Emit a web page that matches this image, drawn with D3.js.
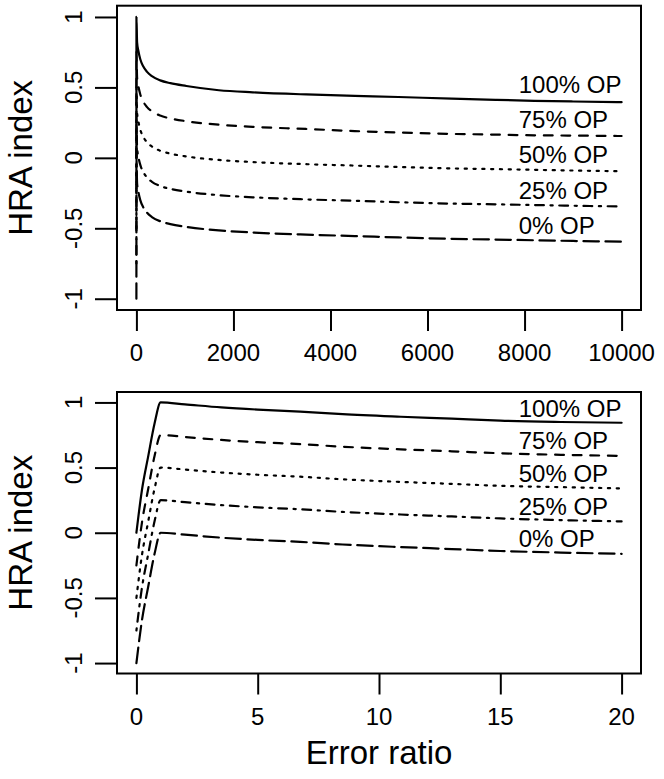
<!DOCTYPE html>
<html>
<head>
<meta charset="UTF-8">
<title>HRA index vs error ratio</title>
<style>
  body { margin: 0; background: #fff; }
  svg { display: block; font-family: "Liberation Sans", Arial, Helvetica, sans-serif; }
  .axis line { stroke: #000; stroke-width: 2; }
  .tick-label { font-size: 24px; fill: #000; }
  .op-label { font-size: 24px; fill: #000; }
  .axis-title { font-size: 33px; fill: #000; }
  .frame { fill: none; stroke: #000; stroke-width: 2; }
  .series { fill: none; stroke: #000; stroke-width: 2.2; stroke-linecap: round; stroke-linejoin: round; }
</style>
</head>
<body>
<svg></svg>
<script src="https://d3js.org/d3.v7.min.js"></script>
<script>

// ---- data ----
// top panel: error ratio 0..10000
const topX    = [0, 1, 14, 40, 80, 140, 220, 320, 490, 700, 1030, 1700, 2400, 3500, 4500, 5400, 6500, 7400, 8200, 9000, 10000];
const top100  = [0, 1, 0.82, 0.76, 0.70, 0.65, 0.61, 0.58, 0.55, 0.53, 0.51, 0.48, 0.465, 0.45, 0.44, 0.432, 0.42, 0.412, 0.405, 0.40, 0.395];
const top75   = [-0.25, 0.75, 0.57, 0.51, 0.45, 0.40, 0.36, 0.33, 0.30, 0.28, 0.26, 0.235, 0.22, 0.205, 0.19, 0.18, 0.17, 0.165, 0.16, 0.158, 0.155];
const top50   = [-0.5, 0.5, 0.32, 0.26, 0.20, 0.15, 0.11, 0.08, 0.05, 0.03, 0.01, -0.015, -0.03, -0.045, -0.055, -0.065, -0.075, -0.08, -0.085, -0.09, -0.095];
const top25   = [-0.75, 0.25, 0.07, 0.01, -0.05, -0.10, -0.14, -0.17, -0.20, -0.22, -0.24, -0.265, -0.28, -0.295, -0.305, -0.315, -0.325, -0.33, -0.335, -0.34, -0.345];
const top0    = [-1, 0, -0.18, -0.24, -0.30, -0.35, -0.39, -0.42, -0.45, -0.47, -0.49, -0.515, -0.53, -0.545, -0.555, -0.565, -0.575, -0.58, -0.585, -0.59, -0.595];

// bottom panel: error ratio 0..20
const botX    = [0, 0.23, 0.48, 0.75, 1, 2, 3.5, 5, 6.75, 8.5, 10.9, 13, 15, 17.5, 20];
const bot100  = [0, 0.33, 0.58, 0.84, 1, 0.985, 0.962, 0.945, 0.93, 0.91, 0.89, 0.875, 0.86, 0.85, 0.844];
const bot75   = [-0.25, 0.08, 0.33, 0.59, 0.75, 0.735, 0.712, 0.695, 0.68, 0.66, 0.64, 0.625, 0.61, 0.598, 0.59];
const bot50   = [-0.5, -0.17, 0.08, 0.34, 0.5, 0.485, 0.462, 0.445, 0.43, 0.41, 0.39, 0.375, 0.36, 0.35, 0.34];
const bot25   = [-0.75, -0.42, -0.17, 0.09, 0.25, 0.235, 0.212, 0.195, 0.18, 0.16, 0.14, 0.125, 0.11, 0.097, 0.087];
const bot0    = [-1, -0.67, -0.42, -0.16, 0, -0.015, -0.038, -0.055, -0.07, -0.09, -0.11, -0.125, -0.14, -0.152, -0.162];

const opLabels   = ["100% OP", "75% OP", "50% OP", "25% OP", "0% OP"];
const yTicks     = [-1, -0.5, 0, 0.5, 1];
const topXTicks  = [0, 2000, 4000, 6000, 8000, 10000];
const botXTicks  = [0, 5, 10, 15, 20];

// R lty: solid, dashed, dotted, dotdash, longdash (scaled by line width)
const lw = 2.2;
const dashes = [null, [4, 4], [1, 3], [1, 3, 4, 3], [7, 3]];

//dimensions
let width = 664, height = 779;
let svg = d3.select("svg").attr("width", width).attr("height", height);

// R style 4% padding of the ranges
function padded(ext) {
  let p = (ext[1] - ext[0]) * 0.04;
  return [ext[0] - p, ext[1] + p];
}

function drawPanel(cfg) {
  let x = d3.scaleLinear().domain(padded(d3.extent(cfg.xs))).range([117, 641]);
  let y = d3.scaleLinear().domain(padded([-1, 1])).range([cfg.bottom, cfg.top]);
  let g = svg.append("g");

  // axes (ticks only, labels drawn below)
  g.append("g").attr("class", "axis")
    .attr("transform", `translate(0,${cfg.bottom})`)
    .call(d3.axisBottom(x).tickValues(cfg.xTicks).tickSize(21).tickSizeOuter(0).tickFormat(""))
    .call(a => a.select(".domain").remove());
  g.append("g").attr("class", "axis")
    .attr("transform", "translate(117,0)")
    .call(d3.axisLeft(y).tickValues(yTicks).tickSize(22).tickSizeOuter(0).tickFormat(""))
    .call(a => a.select(".domain").remove());

  g.selectAll("text.xt").data(cfg.xTicks).join("text")
    .attr("class", "tick-label")
    .attr("x", d => x(d))
    .attr("y", cfg.bottom + 51)
    .attr("text-anchor", "middle")
    .text(d => d);

  g.selectAll("text.yt").data(yTicks).join("text")
    .attr("class", "tick-label")
    .attr("text-anchor", "middle")
    .attr("transform", d => `translate(82,${y(d)}) rotate(-90)`)
    .text(d => String(d));

  g.append("text").attr("class", "axis-title")
    .attr("text-anchor", "middle")
    .attr("transform", `translate(32,${(cfg.top + cfg.bottom) / 2}) rotate(-90)`)
    .text("HRA index");

  // frame
  g.append("rect").attr("class", "frame")
    .attr("x", 117).attr("y", cfg.top)
    .attr("width", 641 - 117).attr("height", cfg.bottom - cfg.top);

  let line = d3.line().x((d, i) => x(cfg.xs[i])).y(d => y(d)).curve(d3.curveMonotoneX);
  g.selectAll("path.series").data(cfg.series).join("path")
    .attr("class", "series")
    .attr("d", d => line(d))
    .attr("stroke-dasharray", (d, i) => dashes[i] ? dashes[i].map(v => v * lw).join(" ") : null);

  g.selectAll("text.op").data(opLabels).join("text")
    .attr("class", "op-label")
    .attr("x", x(cfg.labelX))
    .attr("y", (d, i) => y(cfg.labelY[i]))
    .text(d => d);
}

drawPanel({
  xs: topX, series: [top100, top75, top50, top25, top0], xTicks: topXTicks,
  top: 5.7, bottom: 310,
  labelX: 7880, labelY: [0.46, 0.21, -0.04, -0.29, -0.54]
});

drawPanel({
  xs: botX, series: [bot100, bot75, bot50, bot25, bot0], xTicks: botXTicks,
  top: 392, bottom: 673.5,
  labelX: 15.76, labelY: [0.89, 0.64, 0.39, 0.14, -0.11]
});

svg.append("text").attr("class", "axis-title")
  .attr("x", 379).attr("y", 764)
  .attr("text-anchor", "middle")
  .text("Error ratio");

</script>
</body>
</html>
